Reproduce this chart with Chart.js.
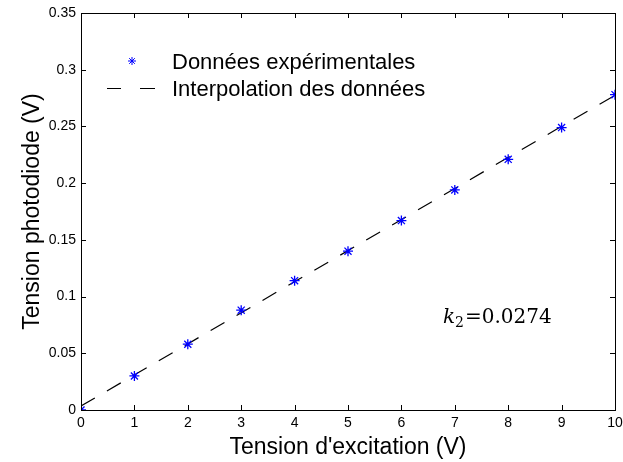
<!DOCTYPE html>
<html>
<head>
<meta charset="utf-8">
<script src="https://cdn.jsdelivr.net/npm/chart.js@4"></script>
<style>
  html, body { margin: 0; padding: 0; background: #fff; }
</style>
</head>
<body>
<canvas id="mainChart" width="623" height="462"></canvas>
<script>
// measured points
const excitation = [0, 1, 2, 3, 4, 5, 6, 7, 8, 9, 10]
const photodiode = [0, 0.030, 0.058, 0.088, 0.114, 0.140, 0.167, 0.194, 0.221, 0.249, 0.278]

// fitted line
const fitX = [0, 10]
const fitY = [0.0035, 0.2775]

const xTickLabels = [`0`, `1`, `2`, `3`, `4`, `5`, `6`, `7`, `8`, `9`, `10`]
const yTickLabels = [`0`, `0.05`, `0.1`, `0.15`, `0.2`, `0.25`, `0.3`, `0.35`]

const seriesNames = [`Données expérimentales`, `Interpolation des données`]
const slopeText = `0.0274`

const SANS = `"Liberation Sans", Arial, sans-serif`
const SERIF = `"DejaVu Serif", "Liberation Serif", serif`

const chart = document.getElementById(`mainChart`)

new Chart(chart, {
  type: "scatter",
  data: {
    datasets: [
      {
        label: seriesNames[0],
        data: excitation.map((x, i) => ({ x: x, y: photodiode[i] })),
        pointStyle: "star",
        pointRadius: 5,
        pointBorderColor: "#0000ff",
        pointBorderWidth: 1.3,
        showLine: false,
      },
      {
        label: seriesNames[1],
        type: "line",
        data: fitX.map((x, i) => ({ x: x, y: fitY[i] })),
        borderColor: "#000",
        borderWidth: 1.2,
        borderDash: [16, 14],
        pointRadius: 0,
        fill: false,
      },
    ],
  },
  options: {
    responsive: false,
    animation: false,
    layout: { padding: { left: 0, top: 13, right: 8, bottom: 0 } },
    scales: {
      x: {
        type: "linear",
        min: 0,
        max: 10,
        grid: { display: false, drawTicks: false },
        border: { display: true, color: "#000", width: 1 },
        ticks: {
          stepSize: 1,
          padding: 5,
          color: "#000",
          font: { family: SANS, size: 14 },
          maxRotation: 0,
          callback: (v, i) => xTickLabels[i],
        },
        afterFit: (scale) => {
          scale.height = 52
          scale.paddingLeft = 0
          scale.paddingRight = 0
        },
      },
      y: {
        min: 0,
        max: 0.35,
        grid: { display: false, drawTicks: false },
        border: { display: true, color: "#000", width: 1 },
        ticks: {
          stepSize: 0.05,
          padding: 5,
          color: "#000",
          font: { family: SANS, size: 14 },
          callback: (v, i) => yTickLabels[i],
        },
        afterFit: (scale) => {
          scale.width = 81
          scale.paddingTop = 0
          scale.paddingBottom = 0
        },
      },
    },
    plugins: {
      legend: { display: false },
      tooltip: { enabled: false },
    },
  },
  plugins: [
    {
      id: "matlabBox",
      afterDraw: function (chart) {
        const ctx = chart.ctx
        const a = chart.chartArea
        const xs = chart.scales.x
        const ys = chart.scales.y
        ctx.save()
        ctx.strokeStyle = "#000"
        ctx.lineWidth = 1
        ctx.strokeRect(a.left + 0.5, a.top + 0.5, a.right - a.left, a.bottom - a.top)
        // inward ticks on every side
        ctx.beginPath()
        xs.ticks.forEach((t) => {
          const px = Math.round(xs.getPixelForValue(t.value)) + 0.5
          ctx.moveTo(px, a.bottom); ctx.lineTo(px, a.bottom - 5)
          ctx.moveTo(px, a.top); ctx.lineTo(px, a.top + 5)
        })
        ys.ticks.forEach((t) => {
          const py = Math.round(ys.getPixelForValue(t.value)) + 0.5
          ctx.moveTo(a.left, py); ctx.lineTo(a.left + 5, py)
          ctx.moveTo(a.right, py); ctx.lineTo(a.right - 5, py)
        })
        ctx.stroke()

        // axis titles
        ctx.fillStyle = "#000"
        ctx.font = `23px ${SANS}`
        ctx.textAlign = "center"
        ctx.textBaseline = "alphabetic"
        ctx.fillText(`Tension d'excitation (V)`, (a.left + a.right) / 2, 454)
        ctx.save()
        ctx.translate(39, (a.top + a.bottom) / 2)
        ctx.rotate(-Math.PI / 2)
        ctx.fillText(`Tension photodiode (V)`, 0, 0)
        ctx.restore()

        // legend
        ctx.font = `22px ${SANS}`
        ctx.textAlign = "left"
        ctx.fillText(seriesNames[0], 172, 69)
        ctx.fillText(seriesNames[1], 172, 96)
        ctx.strokeStyle = "#0000ff"
        Chart.helpers.drawPoint(ctx, {
          pointStyle: "star",
          radius: 4,
          borderWidth: 1.3,
        }, 132, 61)
        ctx.strokeStyle = "#000"
        ctx.lineWidth = 1.2
        ctx.beginPath()
        ctx.moveTo(107, 88.5); ctx.lineTo(121, 88.5)
        ctx.moveTo(140, 88.5); ctx.lineTo(155, 88.5)
        ctx.stroke()

        // slope annotation
        let x = 443
        const base = 323
        ctx.font = `italic 20px ${SERIF}`
        ctx.fillText(`k`, x, base)
        x += ctx.measureText(`k`).width
        ctx.font = `14px ${SERIF}`
        ctx.fillText(`2`, x, base + 4)
        x += ctx.measureText(`2`).width + 1
        ctx.font = `20px ${SERIF}`
        ctx.fillText(`=` + slopeText, x, base)
        ctx.restore()
      },
    },
  ],
})
</script>
</body>
</html>
